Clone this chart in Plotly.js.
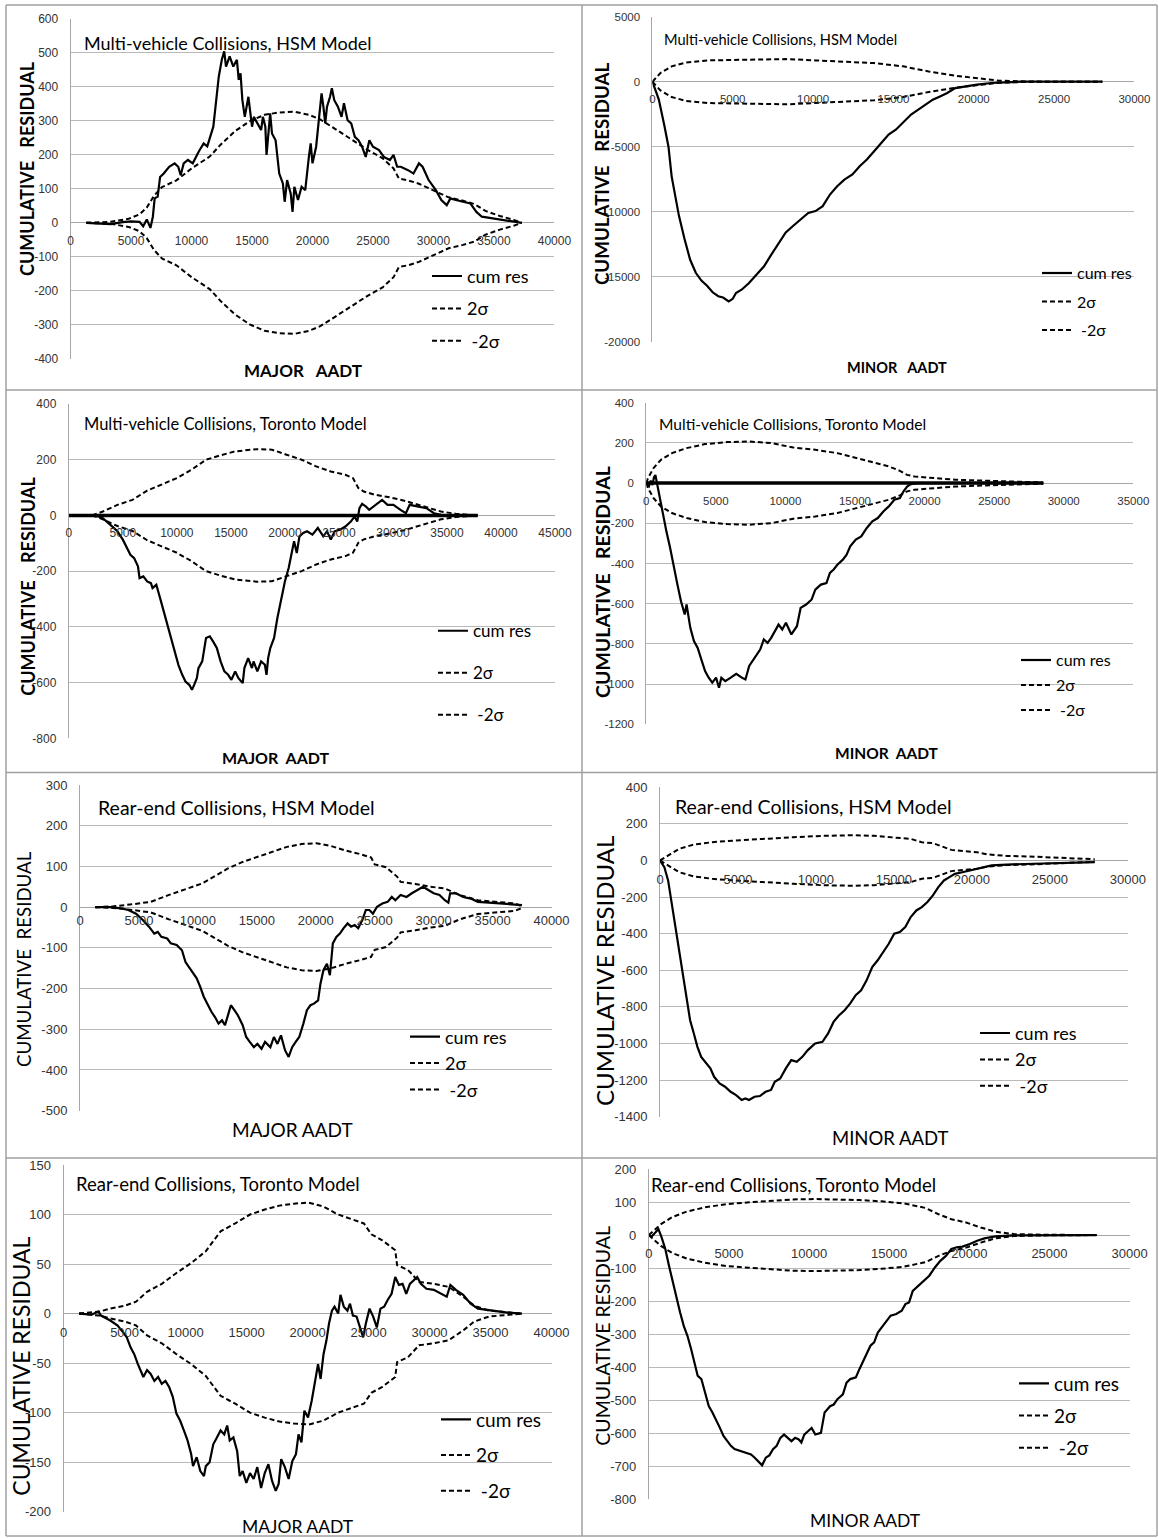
<!DOCTYPE html>
<html><head><meta charset="utf-8">
<script src="https://cdn.plot.ly/plotly-3.0.1.min.js"></script>
<style>html,body{margin:0;padding:0;background:#fff}#chart{width:1159px;height:1538px}</style>
</head><body><div id="chart"></div>
<script>
// ---------------- DATA ----------------
const seriesNames = ["cum res", "2σ", "\u00a0-2σ"];

// Panel 1: Multi-vehicle, HSM, Major AADT
const p1CumX = [1300,2300,3300,4300,5000,5700,6000,6300,6600,6800,6950,7200,7400,7700,8150,8600,8900,9100,9350,9700,10100,10600,11000,11300,11650,11800,11950,12250,12500,12700,12850,13150,13450,13750,13900,14050,14200,14400,14700,15000,15150,15450,15750,15900,16100,16200,16350,16500,16650,16950,17250,17550,17700,17900,18200,18350,18500,18800,19100,19400,19700,19850,20000,20300,20550,20750,20900,21050,21200,21450,21600,21800,22100,22400,22600,22900,23200,23500,23800,24100,24400,24700,25000,25500,25900,26400,26700,27000,27300,27900,28350,28800,29100,29600,30200,30650,31100,31400,31850,32500,33050,33550,34000,34900,36100,37300];
const p1CumY = [0,-2,-4,2,4,3,-10,10,-15,18,72,77,135,145,165,175,165,140,175,185,175,210,234,225,263,283,332,430,480,505,460,490,460,480,421,440,362,312,371,283,312,293,273,312,283,200,263,322,263,243,145,116,62,126,86,32,106,67,106,96,194,234,175,224,312,381,342,293,342,371,396,361,342,312,352,302,293,253,243,224,194,243,224,214,194,185,200,165,165,155,145,175,165,126,96,67,52,72,67,62,57,32,18,13,6,0];
const p1SigX = [1300,3300,4800,5700,6300,6900,7550,8750,10000,11500,12400,13600,14850,16050,17250,18500,19700,20600,21500,23050,24550,25800,26700,27150,27900,28800,30050,31250,32450,33400,34300,35500,36700,37300];
const p1SigUp = [0,3,12,25,45,80,105,125,160,195,230,270,300,318,325,327,318,305,285,250,215,190,160,130,125,115,95,75,65,55,35,20,8,0];
const p1SigLo = [0,-3,-12,-25,-45,-80,-105,-125,-160,-195,-230,-270,-300,-318,-325,-327,-318,-305,-285,-250,-215,-190,-160,-130,-125,-115,-95,-75,-65,-55,-35,-20,-8,0];

// Panel 2: Multi-vehicle, HSM, Minor AADT
const p2CumX = [0,400,750,1000,1200,1450,1650,2000,2350,2700,3050,3400,3750,4100,4400,4750,5000,5200,5550,6000,6500,6950,7400,7850,8300,8750,9200,9700,10150,10600,11050,11500,11950,12450,12900,13350,13800,14250,14700,15150,15600,16100,16550,17000,17450,17900,18350,18850,19500,20200,21100,22000,22950,28000];
const p2CumY = [0,-1380,-3400,-5000,-7300,-9100,-10300,-12100,-13700,-14700,-15300,-15700,-16200,-16500,-16600,-16900,-16700,-16250,-16000,-15500,-14800,-14200,-13300,-12400,-11600,-11100,-10600,-10100,-9950,-9570,-8680,-8040,-7530,-7140,-6500,-5990,-5350,-4710,-4070,-3690,-3170,-2530,-2150,-1770,-1380,-1130,-870,-490,-360,-230,-100,-50,0,0];
const p2SigX = [0,500,1200,2100,3500,5100,6950,8300,10150,11950,13800,15600,17200,18850,20200,21600,22950,24300,28000];
const p2SigUp = [0,670,1180,1480,1640,1690,1740,1740,1640,1560,1430,1180,790,460,256,77,26,0,0];
const p2SigLo = [0,-670,-1180,-1480,-1640,-1690,-1740,-1740,-1640,-1560,-1430,-1180,-790,-460,-256,-77,-26,0,0];

// Panel 3: Multi-vehicle, Toronto, Major AADT
const p3ZeroX = [0,37850];
const p3ZeroY = [0,0];
const p3CumX = [2500,3150,3850,4500,5000,5400,5700,6050,6400,6550,6900,7250,7600,7750,8100,8450,8800,9100,9450,9800,10150,10500,10800,11150,11400,11600,11850,12000,12350,12700,13050,13350,13700,14050,14400,14750,15050,15400,15700,16100,16250,16600,16950,17100,17450,17800,18150,18300,18450,18650,19000,19300,19650,20000,20350,20700,20850,21100,21350,21700,22050,22550,23050,23550,23900,24250,24600,25100,25600,26100,26450,26700,26900,27150,27500,27800,28350,29000,29500,30050,30700,31200,31550,32400,33100,33800,34450,35800,37850];
const p3CumY = [0,-10,-34,-57,-87,-117,-141,-153,-183,-225,-219,-237,-243,-261,-249,-297,-345,-393,-440,-489,-537,-572,-596,-608,-626,-608,-584,-548,-524,-440,-434,-452,-476,-524,-560,-572,-590,-560,-584,-602,-548,-512,-548,-524,-560,-524,-536,-572,-512,-476,-440,-369,-297,-237,-189,-129,-93,-135,-75,-63,-57,-69,-45,-75,-57,-87,-57,-51,-40,-22,-4,-22,26,42,32,20,38,56,38,38,20,8,38,32,26,8,2,0,0];
const p3SigX = [2150,3150,4500,5900,7250,8600,10000,11350,12700,14050,15400,17450,18800,20150,21550,22900,24250,25600,26300,26800,27300,28350,29700,31050,32400,33450,34450,35800,37850];
const p3SigUp = [0,14,38,56,89,110,134,164,200,216,230,238,236,218,200,176,158,146,134,98,86,74,65,53,38,26,14,6,0];
const p3SigLo = [0,-14,-38,-56,-89,-110,-134,-164,-200,-216,-230,-238,-236,-218,-200,-176,-158,-146,-134,-98,-86,-74,-65,-53,-38,-26,-14,-6,0];

// Panel 4: Multi-vehicle, Toronto, Minor AADT
const p4ZeroX = [0,28530];
const p4ZeroY = [0,0];
const p4CumX = [0,200,330,450,560,660,760,925,1190,1450,1720,1980,2245,2500,2770,2900,3170,3430,3700,3960,4230,4490,4750,5020,5230,5400,5680,6075,6470,6870,7130,7400,7790,8190,8450,8720,8980,9250,9510,9775,10040,10430,10830,11095,11490,11890,12150,12550,12950,13200,13470,13735,14130,14400,14660,15060,15450,15850,16250,16640,17040,17430,17830,18230,18490,18750,19020,19550,28530];
const p4CumY = [0,-15,12,-10,30,40,5,-58,-157,-240,-323,-422,-505,-588,-654,-604,-720,-786,-820,-877,-935,-968,-993,-968,-1018,-968,-985,-968,-949,-968,-977,-910,-869,-828,-778,-795,-770,-737,-704,-728,-695,-753,-712,-621,-604,-579,-530,-505,-497,-447,-430,-406,-381,-356,-315,-281,-265,-223,-190,-174,-141,-116,-83,-75,-41,-17,-5,0,0];
const p4SigX = [0,130,530,1060,1850,2900,4230,5800,7400,9000,10570,12150,13735,15320,16380,17430,18230,18750,19280,20600,22190,24300,26415,28530];
const p4SigUp = [0,25,75,116,149,174,194,204,207,199,177,166,149,121,99,83,61,41,33,25,17,12,7,3];
const p4SigLo = [0,-25,-75,-116,-149,-174,-194,-204,-207,-199,-177,-166,-149,-121,-99,-83,-61,-41,-33,-25,-17,-12,-7,-3];

// Panel 5: Rear-end, HSM, Major AADT
const p5CumX = [1300,2550,3500,4100,4750,5350,5850,6300,6600,6900,7400,7700,8200,8650,8950,9400,9900,10200,10500,10800,11150,11450,11750,12050,12300,12550,12800,13100,13400,13800,14100,14400,14750,15050,15400,15700,16150,16450,16750,17050,17400,17700,18000,18300,18600,18950,19250,19550,19850,20200,20400,20650,20950,21200,21450,21750,22050,22350,22700,23000,23300,23600,23950,24250,24550,24850,25200,25650,26100,26450,26750,27200,27700,28150,28600,29100,29550,30000,30500,30950,31250,31400,31900,32500,33150,33750,34700,35600,36550,37500];
const p5CumY = [0,0,-3,-7,-16,-32,-48,-65,-61,-73,-77,-89,-93,-106,-135,-155,-175,-196,-220,-237,-257,-270,-286,-278,-290,-266,-241,-253,-266,-290,-319,-331,-344,-336,-348,-331,-344,-319,-336,-315,-352,-368,-344,-331,-319,-286,-253,-241,-237,-229,-188,-155,-139,-167,-89,-73,-65,-52,-40,-48,-44,-52,-32,-7,-7,-16,1,9,13,25,17,30,25,34,42,50,42,34,30,17,11,34,34,25,21,13,11,9,7,5];
const p5SigX = [1300,2850,4450,6000,7550,9100,10350,11600,12550,13800,15050,16300,17550,18800,20050,21300,22550,23800,24700,25000,25950,26900,27200,28450,29700,30950,32200,33750,35300,36900,37500];
const p5SigUp = [0,2,7,13,30,46,58,79,95,111,123,136,148,155,157,150,139,130,122,105,98,75,62,57,50,46,30,17,13,9,2];
const p5SigLo = [0,-2,-7,-13,-30,-46,-58,-79,-95,-111,-123,-136,-148,-155,-157,-150,-139,-130,-122,-105,-98,-75,-62,-57,-50,-46,-30,-17,-13,-9,-2];

// Panel 6: Rear-end, HSM, Minor AADT
const p6CumX = [0,280,520,750,990,1230,1460,1700,1930,2170,2400,2640,3000,3230,3470,3820,4170,4530,4880,5240,5470,5710,6060,6410,6770,7120,7360,7710,8070,8420,8770,9130,9480,9950,10420,10780,11130,11490,11840,12190,12550,12900,13250,13610,13960,14320,14670,15020,15380,15730,16080,16440,16790,17150,17500,17850,18210,18560,18910,19390,19860,20330,20800,21270,22220,23630,25050,26460,27880];
const p6CumY = [0,-36,-109,-236,-364,-509,-636,-764,-873,-945,-1018,-1073,-1109,-1136,-1182,-1218,-1236,-1264,-1282,-1309,-1300,-1309,-1291,-1287,-1264,-1254,-1209,-1191,-1136,-1091,-1100,-1073,-1036,-1000,-991,-945,-882,-845,-818,-782,-736,-709,-655,-582,-545,-500,-455,-400,-391,-364,-309,-273,-255,-227,-191,-145,-109,-91,-73,-64,-55,-45,-36,-27,-22,-18,-15,-11,-9];
const p6SigX = [0,520,1230,2170,3350,4760,6650,8540,10420,12310,13730,15140,16080,16790,17500,18210,18680,19620,20330,21040,22220,23630,25050,26460,27880];
const p6SigUp = [0,27,64,87,100,109,116,127,135,138,135,127,118,100,95,73,58,51,45,33,25,22,18,13,7];
const p6SigLo = [0,-27,-64,-87,-100,-109,-116,-127,-135,-138,-135,-127,-118,-100,-95,-73,-58,-51,-45,-33,-25,-22,-18,-13,-7];

// Panel 7: Rear-end, Toronto, Major AADT
const p7CumX = [1270,2300,2860,3070,3830,4430,4880,5180,5490,5790,6090,6390,6540,6840,7140,7440,7750,8050,8350,8650,8950,9250,9550,9860,10160,10460,10610,10910,11210,11510,11660,11970,12270,12570,12870,13170,13410,13620,13920,14230,14440,14680,14980,15280,15580,15880,16190,16490,16790,17090,17390,17630,17840,18140,18450,18750,19050,19260,19500,19740,20040,20340,20650,20860,21070,21310,21550,21760,22000,22210,22510,22700,22970,23270,23480,23720,24020,24320,24560,24780,25080,25380,25680,25980,26280,26580,26890,27190,27490,27790,28090,28390,28690,28990,29290,29750,30350,30950,31410,31710,32160,32760,33370,33970,35170,36380,37580];
const p7CumY = [0,-1,2,-2,-7,-12,-19,-24,-34,-41,-51,-59,-64,-57,-61,-68,-64,-71,-68,-74,-84,-101,-108,-118,-128,-142,-154,-145,-159,-164,-154,-150,-132,-125,-118,-122,-113,-128,-125,-139,-164,-159,-171,-161,-167,-155,-176,-161,-152,-169,-179,-172,-147,-155,-167,-149,-142,-122,-130,-98,-105,-88,-64,-51,-66,-41,-27,-10,3,7,0,19,7,3,10,-2,-3,-14,-24,-10,5,-3,-14,5,7,14,20,37,29,30,20,30,34,37,30,25,24,20,17,29,24,19,10,5,3,1,0];
const p7SigX = [1270,2920,3830,5030,5940,6840,8050,9250,10460,11660,12870,14070,15280,16490,17690,18900,20100,21310,22510,23720,24620,25230,26130,27190,27340,28240,29140,30350,31560,32760,33670,34870,36380,37580];
const p7SigUp = [0,2,5,8,12,22,30,41,51,63,83,91,100,105,109,111,112,108,100,95,91,80,74,64,49,44,32,30,27,17,8,3,1,0];
const p7SigLo = [0,-2,-5,-8,-12,-22,-30,-41,-51,-63,-83,-91,-100,-105,-109,-111,-112,-108,-100,-95,-91,-80,-74,-64,-49,-44,-32,-30,-27,-17,-8,-3,-1,0];

// Panel 8: Rear-end, Toronto, Minor AADT
const p8CumX = [0,180,410,600,800,1030,1260,1490,1720,1950,2180,2410,2640,2870,3050,3280,3510,3740,3970,4200,4430,4660,4890,5120,5350,5690,6030,6380,6610,6840,7070,7300,7520,7750,7980,8210,8440,8670,8900,9130,9360,9520,9700,9930,10160,10390,10740,10970,11310,11540,11770,12110,12340,12570,12920,13140,13370,13600,13830,14060,14290,14520,14750,15090,15440,15780,16010,16240,16470,16810,17160,17500,17850,18190,18540,18880,19220,19570,20030,20490,20940,21630,22780,24610,27940];
const p8CumY = [0,-4,8,18,-7,-42,-93,-143,-184,-234,-275,-305,-345,-386,-426,-436,-477,-518,-537,-558,-583,-608,-624,-638,-648,-654,-659,-664,-674,-684,-697,-674,-667,-648,-638,-614,-604,-614,-624,-614,-619,-628,-604,-594,-584,-604,-599,-537,-518,-513,-497,-482,-447,-436,-431,-406,-381,-355,-335,-325,-295,-280,-264,-244,-239,-229,-209,-204,-169,-154,-138,-123,-98,-78,-63,-42,-37,-35,-27,-17,-10,-4,-1,0,0];
const p8SigX = [0,300,760,1450,2360,3510,4890,6260,7640,9020,10390,11770,13140,14520,15900,17270,18080,18880,19800,20710,21630,22780,24610,27940];
const p8SigUp = [0,13,33,54,71,84,94,99,104,108,109,108,106,102,96,82,63,48,38,23,10,3,1,0];
const p8SigLo = [0,-13,-33,-54,-71,-84,-94,-99,-104,-108,-109,-108,-106,-102,-96,-82,-63,-48,-38,-23,-10,-3,-1,0];

// ---------------- LAYOUT CONFIG (pixel geometry & text) ----------------
const W = 1159, H = 1538;
const TICKFONT = '"Liberation Sans Narrow", "Arial Narrow", "Liberation Sans", sans-serif';
const TXTFONT = 'Lato, "Open Sans", sans-serif';

const PANELS = [
 {cum:[p1CumX,p1CumY], sig:[p1SigX,p1SigUp,p1SigLo], zero:null,
  x0:70.6,x1:554.4,xmax:40000,xd:5000,yTop:19,yBot:358.7,ymax:600,ymin:-400,yd:100,tfs:12,xso:9,
  title:'Multi-vehicle Collisions, HSM Model',tx:81.6,ty:42.7,tsz:18,
  xt:'MAJOR\u00a0\u00a0\u00a0AADT',xtx:303,xty:370,xts:17,
  yt:'CUMULATIVE\u00a0\u00a0\u00a0RESIDUAL',ytx:27,yty:169,yts:18,bold:true,
  lx:432,ly:257.8,lf:18,lg:6},
 {cum:[p2CumX,p2CumY], sig:[p2SigX,p2SigUp,p2SigLo], zero:null,
  x0:652.4,x1:1134.4,xmax:30000,xd:5000,yTop:16.7,yBot:341.7,ymax:5000,ymin:-20000,yd:5000,tfs:11.5,xso:9,
  title:'Multi-vehicle Collisions, HSM Model',tx:661.6,ty:39.3,tsz:14.6,
  xt:'MINOR\u00a0\u00a0\u00a0AADT',xtx:897,xty:368,xts:14.5,
  yt:'CUMULATIVE\u00a0\u00a0\u00a0RESIDUAL',ytx:602,yty:174,yts:18.7,bold:true,
  lx:1042,ly:256.1,lf:16,lg:4.7},
 {cum:[p3CumX,p3CumY], sig:[p3SigX,p3SigUp,p3SigLo], zero:[p3ZeroX,p3ZeroY],
  x0:68.8,x1:555,xmax:45000,xd:5000,yTop:404,yBot:738.3,ymax:400,ymin:-800,yd:200,tfs:12,xso:9,
  title:'Multi-vehicle Collisions, Toronto Model',tx:81.6,ty:424,tsz:16.5,
  xt:'MAJOR\u00a0\u00a0AADT',xtx:276,xty:758,xts:16,
  yt:'CUMULATIVE\u00a0\u00a0\u00a0\u00a0RESIDUAL',ytx:28,yty:586.7,yts:18,bold:true,
  lx:438,ly:613.2,lf:17,lg:16.9},
 {cum:[p4CumX,p4CumY], sig:[p4SigX,p4SigUp,p4SigLo], zero:[p4ZeroX,p4ZeroY],
  x0:646.2,x1:1133.3,xmax:35000,xd:5000,yTop:402.7,yBot:724.3,ymax:400,ymin:-1200,yd:200,tfs:11.5,xso:9,
  title:'Multi-vehicle Collisions, Toronto Model',tx:656.5,ty:424,tsz:15.6,
  xt:'MINOR\u00a0\u00a0AADT',xtx:887,xty:753,xts:15.5,
  yt:'CUMULATIVE\u00a0\u00a0\u00a0RESIDUAL',ytx:602,yty:582,yts:19.5,bold:true,
  lx:1021,ly:643.1,lf:16,lg:1.2},
 {cum:[p5CumX,p5CumY], sig:[p5SigX,p5SigUp,p5SigLo], zero:null,
  x0:80,x1:551.5,xmax:40000,xd:5000,yTop:785,yBot:1110.7,ymax:300,ymin:-500,yd:100,tfs:13,xso:4,
  title:'Rear-end Collisions, HSM Model',tx:95.6,ty:807.3,tsz:19.5,
  xt:'MAJOR AADT',xtx:292,xty:1129,xts:19,
  yt:'CUMULATIVE\u00a0\u00a0RESIDUAL',ytx:24,yty:959,yts:18.7,bold:false,
  lx:410,ly:1018.5,lf:18,lg:0},
 {cum:[p6CumX,p6CumY], sig:[p6SigX,p6SigUp,p6SigLo], zero:null,
  x0:660,x1:1127.8,xmax:30000,xd:5000,yTop:787.3,yBot:1116.7,ymax:400,ymin:-1400,yd:200,tfs:13,xso:9,
  title:'Rear-end Collisions, HSM Model',tx:672.6,ty:806.7,tsz:19.5,
  xt:'MINOR AADT',xtx:890.7,xty:1138,xts:18.5,
  yt:'CUMULATIVE RESIDUAL',ytx:604,yty:971,yts:24,bold:false,
  lx:980,ly:1014.8,lf:18,lg:0},
 {cum:[p7CumX,p7CumY], sig:[p7SigX,p7SigUp,p7SigLo], zero:null,
  x0:63.6,x1:551.5,xmax:40000,xd:5000,yTop:1165,yBot:1511.7,ymax:150,ymin:-200,yd:50,tfs:13,xso:9,
  title:'Rear-end Collisions, Toronto Model',tx:73.5,ty:1184.3,tsz:18.5,
  xt:'MAJOR AADT',xtx:297.8,xty:1526.7,xts:17.5,
  yt:'CUMULATIVE RESIDUAL',ytx:21,yty:1366.7,yts:23,bold:false,
  lx:441,ly:1400.5,lf:19,lg:8},
 {cum:[p8CumX,p8CumY], sig:[p8SigX,p8SigUp,p8SigLo], zero:null,
  x0:648.8,x1:1129.6,xmax:30000,xd:5000,yTop:1169,yBot:1499.3,ymax:200,ymin:-800,yd:100,tfs:13,xso:9,
  title:'Rear-end Collisions, Toronto Model',tx:649,ty:1185,tsz:18.6,
  xt:'MINOR AADT',xtx:865,xty:1520,xts:17.5,
  yt:'CUMULATIVE RESIDUAL',ytx:603,yty:1335.7,yts:19.5,bold:false,
  lx:1019,ly:1364.5,lf:19,lg:4.5}
];

// ---------------- BUILD ----------------
const GRID = '#b9b9b9', AXLINE = '#a6a6a6', TICKCOL = '#333';
const data = [];
const layout = {
  width: W, height: H, margin: {l:0, r:0, t:0, b:0},
  paper_bgcolor: '#fff', plot_bgcolor: 'rgba(0,0,0,0)',
  annotations: [], shapes: []
};

function tickSet(lo, hi, step) {
  const vals = [], txt = [];
  for (let v = lo; v <= hi + 1e-9; v += step) { vals.push(v); txt.push(String(v)); }
  return {vals, txt};
}

PANELS.forEach((p, k) => {
  const i = k + 1;
  const xa = i === 1 ? 'x' : 'x' + i;
  const ya = i === 1 ? 'y' : 'y' + i;
  const xk = i === 1 ? 'xaxis' : 'xaxis' + i;
  const yk = i === 1 ? 'yaxis' : 'yaxis' + i;
  const lk = i === 1 ? 'legend' : 'legend' + i;

  if (p.zero) {
    data.push({x: p.zero[0], y: p.zero[1], xaxis: xa, yaxis: ya, mode: 'lines',
      line: {color: '#000', width: 3.5}, showlegend: false, hoverinfo: 'skip'});
  }
  data.push({x: p.cum[0], y: p.cum[1], xaxis: xa, yaxis: ya, mode: 'lines', name: seriesNames[0],
    line: {color: '#000', width: 2.2}, legend: lk, legendgroup: 'a' + i});
  data.push({x: p.sig[0], y: p.sig[1], xaxis: xa, yaxis: ya, mode: 'lines', name: seriesNames[1],
    line: {color: '#000', width: 2, dash: '5px,3px'}, legend: lk, legendgroup: 'b' + i});
  data.push({x: p.sig[0], y: p.sig[2], xaxis: xa, yaxis: ya, mode: 'lines', name: seriesNames[2],
    line: {color: '#000', width: 2, dash: '5px,3px'}, legend: lk, legendgroup: 'c' + i});

  const yZeroPx = p.yTop + (p.ymax / (p.ymax - p.ymin)) * (p.yBot - p.yTop);
  const xt = tickSet(0, p.xmax, p.xd);
  const yt = tickSet(p.ymin, p.ymax, p.yd);

  layout[xk] = {
    domain: [p.x0 / W, p.x1 / W], range: [0, p.xmax],
    tickmode: 'array', tickvals: xt.vals, ticktext: xt.txt,
    anchor: 'free', position: 1 - yZeroPx / H,
    showgrid: false, zeroline: false, showline: false,
    ticks: '', ticklabelstandoff: p.xso,
    tickfont: {family: TICKFONT, size: p.tfs, color: TICKCOL}, fixedrange: true
  };
  layout[yk] = {
    domain: [1 - p.yBot / H, 1 - p.yTop / H], range: [p.ymin, p.ymax],
    tickmode: 'array', tickvals: yt.vals, ticktext: yt.txt,
    anchor: xa, showgrid: true, gridcolor: GRID, gridwidth: 1,
    zeroline: true, zerolinecolor: AXLINE, zerolinewidth: 1,
    showline: true, linecolor: AXLINE, linewidth: 1,
    ticks: '', ticklabelstandoff: 9,
    tickfont: {family: TICKFONT, size: p.tfs, color: TICKCOL}, fixedrange: true
  };
  layout[lk] = {
    x: (p.lx - 5) / W, y: 1 - p.ly / H, xanchor: 'left', yanchor: 'top',
    bgcolor: 'rgba(0,0,0,0)', borderwidth: 0, traceorder: 'grouped', tracegroupgap: p.lg,
    font: {family: TXTFONT, size: p.lf, color: '#000'}
  };

  layout.annotations.push({xref: 'paper', yref: 'paper', x: p.tx / W, y: 1 - p.ty / H,
    xanchor: 'left', yanchor: 'middle', showarrow: false, text: p.title,
    font: {family: TXTFONT, size: p.tsz, color: '#000'}});
  layout.annotations.push({xref: 'paper', yref: 'paper', x: p.xtx / W, y: 1 - p.xty / H,
    xanchor: 'center', yanchor: 'middle', showarrow: false, text: p.xt,
    font: {family: TXTFONT, size: p.xts, color: '#000', weight: p.bold ? 700 : 400}});
  layout.annotations.push({xref: 'paper', yref: 'paper', x: p.ytx / W, y: 1 - p.yty / H,
    xanchor: 'center', yanchor: 'middle', showarrow: false, text: p.yt, textangle: -90,
    font: {family: TXTFONT, size: p.yts, color: '#000', weight: p.bold ? 700 : 400}});
});

// table cell borders
const BORDER = {color: '#a0a0a0', width: 1.5};
function pline(x0, y0, x1, y1) {
  layout.shapes.push({type: 'line', xref: 'paper', yref: 'paper',
    x0: x0 / W, y0: 1 - y0 / H, x1: x1 / W, y1: 1 - y1 / H, line: BORDER});
}
pline(6, 5, 1157, 5);
pline(6, 1536, 1157, 1536);
pline(6, 5, 6, 1536);
pline(1157, 5, 1157, 1536);
pline(582, 5, 582, 1536);
pline(6, 390, 1157, 390);
pline(6, 772.5, 1157, 772.5);
pline(6, 1158, 1157, 1158);

Plotly.newPlot('chart', data, layout, {displayModeBar: false, staticPlot: true});
</script>
</body></html>
